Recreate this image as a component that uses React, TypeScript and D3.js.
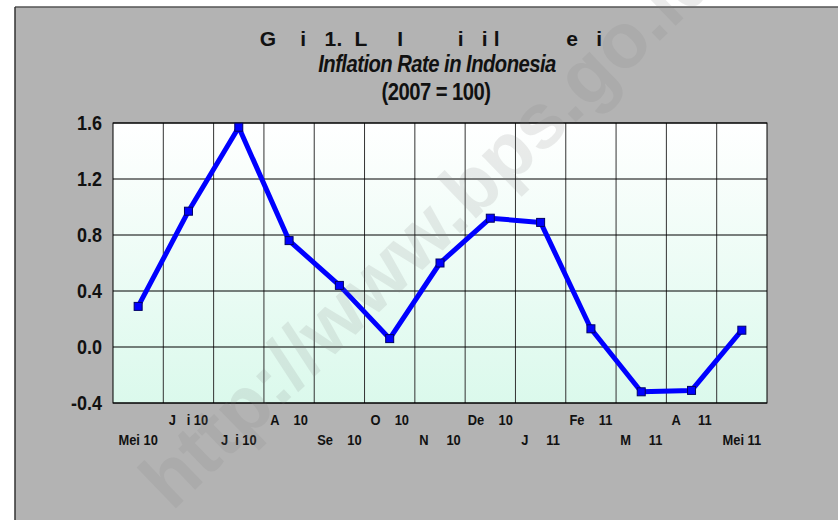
import { useRef, useEffect } from 'react';
import * as d3 from 'd3';

const months = ['Mei 10', 'J   i 10', 'J  i 10', 'A    10', 'Se    10', 'O    10', 'N     10',
  'De    10', 'J     11', 'Fe    11', 'M     11', 'A     11', 'Mei 11'];
const inflation = [0.29, 0.97, 1.57, 0.76, 0.44, 0.06, 0.60, 0.92, 0.89, 0.13, -0.32, -0.31, 0.12];
const yTicks = [-0.4, 0.0, 0.4, 0.8, 1.2, 1.6];

const W = 838, H = 520;

export default function App() {
  const svgRef = useRef<SVGSVGElement>(null);

  useEffect(() => {
    const svg = d3.select(svgRef.current);
    svg.selectAll('*').remove();

    const font = 'Liberation Sans, Arial, sans-serif';

    // panel background
    svg.append('rect').attr('x', 0).attr('y', 0).attr('width', W).attr('height', H).attr('fill', '#ffffff');
    svg.append('rect').attr('x', 15).attr('y', 7).attr('width', W - 15).attr('height', H - 7).attr('fill', '#b3b3b3');
    svg.append('line').attr('x1', 15).attr('y1', 7).attr('x2', W).attr('y2', 7)
      .attr('stroke', '#555').attr('stroke-width', 1.5);
    svg.append('line').attr('x1', 15).attr('y1', 7).attr('x2', 15).attr('y2', H)
      .attr('stroke', '#333').attr('stroke-width', 1.5);

    const pad = { left: 113, right: 767, top: 123, bottom: 403 };
    const x = d3.scaleBand<string>().domain(months).range([pad.left, pad.right]);
    const y = d3.scaleLinear().domain([-0.4, 1.6]).range([pad.bottom, pad.top]);

    // gradient
    const defs = svg.append('defs');
    const grad = defs.append('linearGradient').attr('id', 'plotGrad')
      .attr('x1', 0).attr('y1', 0).attr('x2', 0).attr('y2', 1);
    grad.append('stop').attr('offset', '0%').attr('stop-color', '#ffffff');
    grad.append('stop').attr('offset', '100%').attr('stop-color', '#dbf9ec');

    svg.append('rect').attr('x', pad.left).attr('y', pad.top)
      .attr('width', pad.right - pad.left).attr('height', pad.bottom - pad.top)
      .attr('fill', 'url(#plotGrad)');

    // grid
    months.forEach((m, i) => {
      if (i === 0) return;
      const xx = x(m)!;
      svg.append('line').attr('x1', xx).attr('x2', xx).attr('y1', pad.top).attr('y2', pad.bottom)
        .attr('stroke', '#333').attr('stroke-width', 1);
    });
    yTicks.forEach(t => {
      svg.append('line').attr('x1', pad.left).attr('x2', pad.right)
        .attr('y1', y(t)).attr('y2', y(t)).attr('stroke', '#000').attr('stroke-width', 1);
    });
    svg.append('rect').attr('x', pad.left).attr('y', pad.top)
      .attr('width', pad.right - pad.left).attr('height', pad.bottom - pad.top)
      .attr('fill', 'none').attr('stroke', '#000').attr('stroke-width', 1);

    // y labels (condensed look)
    yTicks.forEach(t => {
      svg.append('text').attr('transform', `translate(102,${y(t) + 7}) scale(0.9,1)`)
        .attr('text-anchor', 'end').attr('font-family', font).attr('font-weight', 'bold')
        .attr('font-size', 20).attr('fill', '#111').text(t.toFixed(1));
    });

    // x labels (staggered)
    months.forEach((m, i) => {
      svg.append('text')
        .attr('transform', `translate(${x(m)! + x.bandwidth() / 2},${i % 2 === 1 ? 425 : 445}) scale(0.92,1)`)
        .attr('text-anchor', 'middle').attr('font-family', font).attr('font-weight', 'bold')
        .attr('font-size', 14).attr('fill', '#111').style('white-space', 'pre').text(m);
    });

    // line
    const pts = months.map((m, i) => ({ m, v: inflation[i] }));
    const line = d3.line<{ m: string; v: number }>()
      .x(d => x(d.m)! + x.bandwidth() / 2).y(d => y(d.v));
    svg.append('path').datum(pts).attr('d', line).attr('fill', 'none')
      .attr('stroke', '#0000ff').attr('stroke-width', 5).attr('stroke-linejoin', 'round');
    svg.selectAll('rect.mk').data(pts).enter().append('rect').attr('class', 'mk')
      .attr('x', d => x(d.m)! + x.bandwidth() / 2 - 4).attr('y', d => y(d.v) - 4)
      .attr('width', 8).attr('height', 8).attr('fill', '#0000ff')
      .attr('stroke', '#000066').attr('stroke-width', 1);

    // titles
    svg.append('text').attr('x', 431).attr('y', 46).attr('text-anchor', 'middle')
      .attr('font-family', font).attr('font-weight', 'bold').attr('font-size', 21)
      .attr('letter-spacing', 0.2).attr('fill', '#111').style('white-space', 'pre')
      .text('G    i   1.  L     I         i   i l           e   i');
    svg.append('text').attr('transform', 'translate(437,72) scale(0.88,1)').attr('text-anchor', 'middle')
      .attr('font-family', font).attr('font-weight', 'bold').attr('font-style', 'italic')
      .attr('font-size', 23).attr('letter-spacing', -0.6).attr('fill', '#111')
      .text('Inflation Rate in Indonesia');
    svg.append('text').attr('transform', 'translate(436,100) scale(0.88,1)').attr('text-anchor', 'middle')
      .attr('font-family', font).attr('font-weight', 'bold')
      .attr('font-size', 23).attr('letter-spacing', -0.6).attr('fill', '#111')
      .text('(2007 = 100)');

    // watermark
    svg.append('text').attr('transform', 'translate(172,512) rotate(-44)')
      .attr('font-family', font).attr('font-weight', 'bold').attr('font-size', 78)
      .attr('fill', '#808080').attr('opacity', 0.15).text('http://www.bps.go.id');
  }, []);

  return (
    <svg ref={svgRef} width={W} height={H}
      style={{ position: 'absolute', left: 0, top: 0, display: 'block' }} />
  );
}
